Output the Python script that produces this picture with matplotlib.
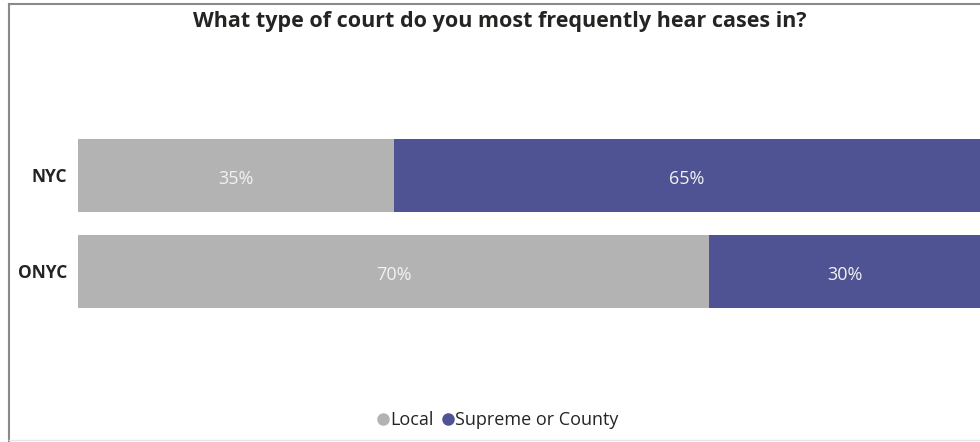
import matplotlib.pyplot as plt
from matplotlib.lines import Line2D

plt.rcParams['font.family'] = ['Open Sans', 'DejaVu Sans']

categories = ["NYC", "ONYC"]
local = [35, 70]
supreme = [65, 30]
series_names = ["Local", "Supreme or County"]
colors = ["#B3B3B3", "#4F5394"]
title = "What type of court do you most frequently hear cases in?"

W, H = 980, 442
fig = plt.figure(figsize=(W / 100, H / 100), dpi=100)

# axes spans pixel rows 100..350, bars 96 px apart
ax_top, ax_bot = 100, 350
ax = fig.add_axes([78 / W, 1 - ax_bot / H, 1 - 78 / W, (ax_bot - ax_top) / H])
unit = 96.0
first_center = 175.5
ax.set_ylim((ax_bot - first_center) / unit, (ax_top - first_center) / unit)
ax.set_xlim(0, 100)

ypos = list(range(len(categories)))
bar_h = 73 / unit
ax.barh(ypos, local, height=bar_h, color=colors[0], edgecolor="none")
ax.barh(ypos, supreme, left=local, height=bar_h, color=colors[1], edgecolor="none")

for y, a, b in zip(ypos, local, supreme):
    ax.text(a / 2, y + 0.04, f"{a}%", ha="center", va="center", color="#F2F2F2", fontsize=13)
    ax.text(a + b / 2, y + 0.04, f"{b}%", ha="center", va="center", color="#F2F2F2", fontsize=13)

ax.set_yticks(ypos)
ax.set_yticklabels(categories, fontsize=12.5, fontweight="bold", color="#252423")
ax.tick_params(axis="y", length=0, pad=8)
ax.set_xticks([])
for s in ax.spines.values():
    s.set_visible(False)

fig.text(500 / W, 1 - 22 / H, title, ha="center", va="center",
         fontsize=15.5, fontweight="bold", color="#252423")

handles = [Line2D([], [], marker="o", linestyle="none", markersize=8,
                  markerfacecolor=c, markeredgecolor=c) for c in colors]
fig.legend(handles, series_names, loc="center", bbox_to_anchor=(497 / W, 1 - 420 / H),
           ncol=2, frameon=False, fontsize=13, handletextpad=0.0,
           columnspacing=0.4, labelcolor="#252423", handlelength=0.8)

# panel frame: left and top edges
fig.add_artist(Line2D([8.5 / W, 8.5 / W], [0, 1 - 3.5 / H], transform=fig.transFigure,
                      color="#8A8A8A", linewidth=1.5))
fig.add_artist(Line2D([8.5 / W, 1], [1 - 3.5 / H, 1 - 3.5 / H], transform=fig.transFigure,
                      color="#8A8A8A", linewidth=1.5))
fig.add_artist(Line2D([8.5 / W, 1], [1 - 440 / H, 1 - 440 / H], transform=fig.transFigure,
                      color="#E6E6E6", linewidth=1))

fig.savefig("out.png", dpi=100)
